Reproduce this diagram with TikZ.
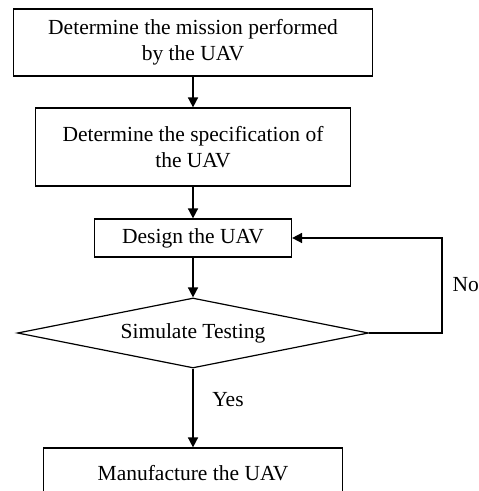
\documentclass[tikz,border=0pt]{standalone}
\usepackage{fontspec}
\setmainfont{Liberation Serif}
\usepackage{tikz}
\usetikzlibrary{
  arrows.meta,
  shapes.geometric
}

\begin{document}
\begin{tikzpicture}[
  x=1pt, y=1pt,
  font=\fontsize{21.5}{26}\selectfont,
  stepbox/.style={
    draw=black,
    line width=1.2pt,
    rectangle,
    align=center,
    inner sep=0pt
  },
  testbox/.style={
    draw=black,
    line width=1.2pt,
    diamond,
    aspect=5,
    inner sep=0pt,
    minimum width=351pt,
    minimum height=70pt
  },
  flow/.style={
    line width=1.6pt,
    -{Triangle[length=10pt, width=10pt]}
  }
]

% Frame
\useasboundingbox (0,0) rectangle (479,491);
\clip (0,0) rectangle (479,491);

% Boxes
\node[stepbox, minimum width=359pt, minimum height=67pt] (mission) at (193, 448.5)
  {Determine the mission performed\\by the UAV};
\node[stepbox, minimum width=315pt, minimum height=78pt] (spec) at (193, 344)
  {Determine the specification of\\the UAV};
\node[stepbox, minimum width=197pt, minimum height=38pt] (design) at (193, 253)
  {Design the UAV};
\node[testbox] (test) at (193, 158) {Simulate Testing};
\node[stepbox, minimum width=299pt, minimum height=50pt] (make) at (193, 18)
  {Manufacture the UAV};

% Arrows
\draw[flow] (mission.south) -- (spec.north);
\draw[flow] (spec.south) -- (design.north);
\draw[flow] (design.south) -- (test.north);
\draw[flow] (test.south) -- (make.north);

% Loop back
\coordinate (back) at (442, 158);
\draw[flow] (test.east) -- (back) |- (design.east);

% Labels
\node[anchor=west] (no) at (449, 206) {No};
\node (yes) at (228, 91) {Yes};

\end{tikzpicture}
\end{document}
